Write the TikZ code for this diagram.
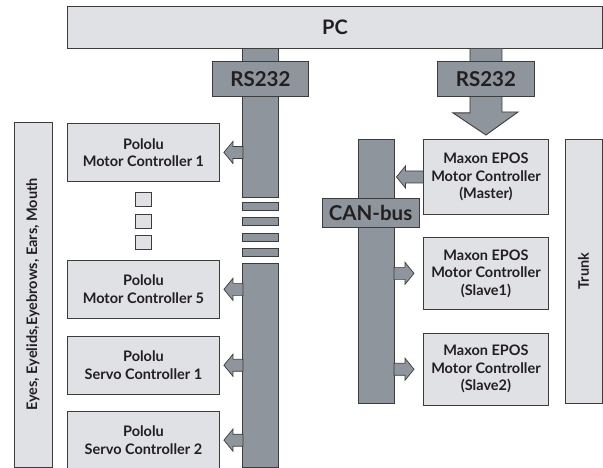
\documentclass[tikz,border=0pt]{standalone}
\usepackage{fontspec}
\setmainfont{Lato}
\usetikzlibrary{positioning, calc}
\definecolor{boxgray}{RGB}{224,225,229}
\definecolor{busgray}{RGB}{143,149,156}
\definecolor{linegray}{RGB}{60,60,60}
\definecolor{textgray}{RGB}{35,31,32}

\begin{document}
\begin{tikzpicture}[x=1pt, y=-1pt,
    box/.style={rectangle, draw=linegray, fill=boxgray, line width=0.9pt, inner sep=0pt, align=center, text=textgray, font=\fontsize{14.5}{17.5}\selectfont\bfseries},
    bus/.style={rectangle, draw=linegray, fill=busgray, line width=0.9pt, inner sep=0pt},
    buslabel/.style={bus, font=\fontsize{20.5}{22}\selectfont\bfseries, text=textgray},
    fat/.style={draw=linegray, fill=busgray, line width=0.7pt},
    pics/fatleft/.style={code={\draw[fat] (0,0) -- (9,-11) -- (9,-6) -- (#1,-6) -- (#1,6) -- (9,6) -- (9,11) -- cycle;}},
    pics/fatright/.style={code={\draw[fat] (0,0) -- (-9,-11) -- (-9,-6) -- (-#1,-6) -- (-#1,6) -- (-9,6) -- (-9,11) -- cycle;}}
]
\useasboundingbox (0,0) rectangle (603,468);

% PC
\node[box, minimum width=535pt, minimum height=42pt, anchor=north west, font=\fontsize{20}{22}\selectfont\bfseries] (pc) at (67,6) {PC};

% Left side: serial bus to the Pololu controllers
\node[bus, minimum width=36pt, minimum height=149pt, anchor=north west] (busA) at (242,48) {};
\foreach \i in {0,...,3}
  \node[bus, minimum width=36pt, minimum height=8pt, anchor=north west] (dash\i) at (242,202+15.3*\i) {};
\node[bus, minimum width=36pt, minimum height=204pt, anchor=north west] (busB) at (242,263) {};
\node[buslabel, minimum width=96pt, minimum height=35pt, anchor=north west] (rsL) at (212,61) {RS232};

\node[box, minimum width=152pt, minimum height=58pt, anchor=north west] (mc1) at (67,123) {Pololu\\Motor Controller 1};
\node[box, minimum width=152pt, minimum height=58pt, below=78pt of mc1] (mc5) {Pololu\\Motor Controller 5};
\node[box, minimum width=152pt, minimum height=58pt, below=17pt of mc5] (servo1) {Pololu\\Servo Controller 1};
\node[box, minimum width=152pt, minimum height=58pt, below=16pt of servo1] (servo2) {Pololu\\Servo Controller 2};
\foreach \y in {199,221,242}
  \node[box, minimum width=16pt, minimum height=14pt] (sq\y) at (mc1.center |- 0,\y) {};

\node[box, rotate=90, minimum width=345pt, minimum height=38pt] (face) at (33,294.5) {Eyes, Eyelids,Eyebrows, Ears, Mouth};

% Arrows to the Pololu controllers
\pic at ($(mc1.east)+(4,0)$) {fatleft=19};
\pic at ($(mc5.east)+(4,0)$) {fatleft=19};
\pic at ($(servo1.east)+(4,0)$) {fatleft=19};
\pic at ($(servo2.east)+(4,0)$) {fatleft=19};

% Right side: CAN-bus to the EPOS controllers
\node[box, minimum width=125pt, minimum height=75pt, anchor=north west] (master) at (423,139) {Maxon EPOS\\Motor Controller\\(Master)};
\node[box, minimum width=125pt, minimum height=72pt, below=22pt of master] (slave1) {Maxon EPOS\\Motor Controller\\(Slave1)};
\node[box, minimum width=125pt, minimum height=72pt, below=23pt of slave1] (slave2) {Maxon EPOS\\Motor Controller\\(Slave2)};

\draw[fat, line width=0.9pt] ($(pc.south -| master)+(-16,0)$) -- ++(0,64) -- ++(-17,0) -- ($(master.north)+(0,-4)$) -- ++(32,-23) -- ++(-16,0) -- ($(pc.south -| master)+(16,0)$);
\node[buslabel, minimum width=97pt, minimum height=35pt, anchor=north west] (rsR) at (437,61) {RS232};

\node[bus, minimum width=36pt, minimum height=264pt] (can) at (376,271) {};
\node[buslabel, minimum width=97pt, minimum height=29pt] (canlabel) at (370.5,212.5) {CAN-bus};

\node[box, rotate=90, minimum width=264pt, minimum height=37pt] (trunk) at (583.5,271) {Trunk};

% Arrows on the CAN-bus
\pic at ($(can.east |- master.west)+(2,0)$) {fatleft=27};
\pic at ($(slave1.west)+(-9,0)$) {fatright=20};
\pic at ($(slave2.west)+(-9,0)$) {fatright=20};

\end{tikzpicture}
\end{document}
